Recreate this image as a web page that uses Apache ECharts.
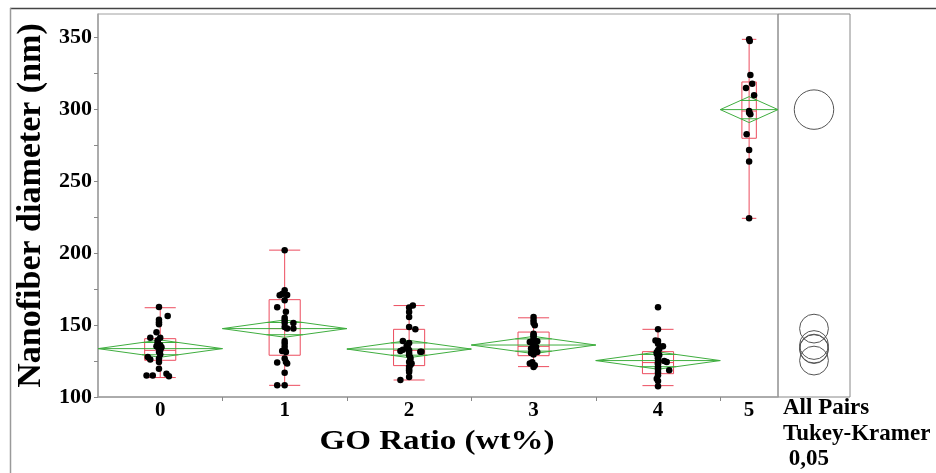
<!DOCTYPE html>
<html>
<head>
<meta charset="utf-8">
<script src="https://cdn.jsdelivr.net/npm/echarts@6/dist/echarts.min.js"></script>
<style>
  html, body { margin: 0; padding: 0; background: #fff; }
  #chart { width: 936px; height: 473px; }
</style>
</head>
<body>
<div id="chart"></div>
<script>
// GO ratio groups (wt%)
const categories = ['0', '1', '2', '3', '4', '5'];

// Individual fiber diameters (nm) per group as [jitter, diameter]
const pts0 = [[-0.01,162.5],[0.06,156.3],[-0.01,153.7],[-0.01,152.0],[-0.01,150.5],[-0.03,145.0],[-0.08,141.2],[0.0,141.2],
  [-0.02,139.4],[-0.02,138.2],[-0.02,137.0],[0.0,135.9],[-0.03,135.3],[-0.02,134.7],[0.01,134.5],[0.0,133.6],[0.0,132.4],
  [-0.01,131.3],[0.0,129.5],[-0.10,127.8],[-0.01,126.7],[-0.08,126.0],[-0.01,124.3],[-0.01,119.7],[-0.11,115.0],[-0.06,115.0],
  [0.05,116.2],[0.07,114.4]];
const pts1 = [[0,201.9],[0,174.1],[-0.04,170.6],[-0.02,171.5],[0.02,170.8],[0,167.2],[-0.06,162.3],[0.01,159.2],[0,155.1],
  [0,153.3],[0,151.4],[0.07,151.4],[0,148.6],[0.02,147.5],[0.07,147.5],[0,138.9],[0,137.1],[0,134.9],[-0.02,131.9],[0,132.4],
  [0.01,131.3],[0,126.7],[0.01,124.3],[0.02,123.2],[-0.06,123.9],[0,116.9],[-0.06,108.1],[0,108.1]];
const pts2 = [[0.03,163.5],[0,162.1],[0,159.0],[0,155.6],[0,148.6],[0.05,147.0],[-0.05,138.9],[0,137.5],[-0.01,134.0],
  [-0.05,132.9],[-0.07,131.9],[0,132.4],[0.09,131.5],[0.1,131.5],[0,129.0],[0.01,127.5],[0.01,126.0],[0,124.3],[0.02,123.2],
  [0,121.0],[0,119.7],[0,117.4],[-0.07,111.8],[0,113.9],[0,130.5],[-0.02,135.5],[0.01,122.2],[0,118.5]];
const pts3 = [[0,155.6],[0,153.3],[0,151.4],[0.01,149.8],[0,144.0],[0,143.0],[0,142.2],[0,140.5],[0,139.4],[0.03,138.7],
  [-0.03,138.2],[0,137.8],[0,136.6],[0.02,134.7],[-0.02,133.6],[0,135.5],[0,134.0],[0,133.0],[0,132.4],[0.03,131.3],
  [-0.02,130.6],[0,131.8],[0,129.5],[-0.01,124.1],[-0.03,123.2],[0.01,122.0],[0,120.8],[0,136.2]];
const pts4 = [[0,162.3],[0,147.0],[-0.02,139.2],[0,138.9],[0,137.0],[0.04,135.2],[0.01,133.3],[0,132.4],[-0.01,131.0],
  [-0.01,130.1],[0,128.3],[0,127.0],[0,126.7],[0.05,125.0],[0.07,124.3],[0,124.3],[0,123.5],[0,122.7],[0,121.0],[0,120.1],
  [0,119.0],[0.09,118.5],[0,117.0],[0,115.1],[-0.01,112.7],[0,111.1],[0,107.4],[0.01,129.2]];
const pts5 = [[0,348.4],[0.005,347.3],[0.01,323.6],[0.025,317.6],[-0.025,314.6],[0.04,309.5],[0,298.6],[0.01,296.3],
  [0,297.5],[-0.02,282.4],[0,271.5],[0,263.5],[0,224.1]];

// Quantile box summaries
const whiskerLow  = [113.5, 108.1, 111.8, 121.1, 107.9, 224.1];
const quartile1   = [125.5, 129.0, 121.8, 128.7, 116.2, 279.7];
const medians     = [132.4, 147.5, 132.4, 135.2, 123.9, 298.6];
const quartile3   = [140.5, 167.6, 147.0, 145.1, 131.5, 318.8];
const whiskerHigh = [162.0, 202.0, 163.5, 155.0, 147.0, 348.4];

// Means, 95% CI half-widths and Tukey-Kramer comparison-circle radii
const means       = [133.6, 147.5, 133.3, 136.1, 125.3, 299.6];
const ciHalf      = [6.0, 6.0, 6.0, 6.0, 6.0, 9.0];
const tukeyRadius = [10.0, 10.0, 10.0, 10.0, 10.0, 13.7];

// Y axis ticks
const yTicks = [100, 150, 200, 250, 300, 350];
const yMinorTicks = [125, 175, 225, 275, 325];

// ---- derived layout: x widths proportional to group size ----
const groups = [pts0, pts1, pts2, pts3, pts4, pts5];
const maxN = Math.max(...groups.map(g => g.length));
const widths = groups.map(g => g.length / maxN);
const bounds = [0];
widths.forEach(w => bounds.push(bounds[bounds.length - 1] + w));
const centers = widths.map((w, i) => bounds[i] + w / 2);
const xMax = bounds[bounds.length - 1];
const innerBounds = bounds.slice(1, -1);

const RED = '#ec4c5e';
const GREEN = '#3fae3f';
const SERIF = '"Liberation Serif", "Times New Roman", serif';

const boxData = categories.map((c, i) => [centers[i], widths[i] * 0.125,
  whiskerLow[i], quartile1[i], medians[i], quartile3[i], whiskerHigh[i]]);
const diamondData = categories.map((c, i) => [centers[i], widths[i] / 2, means[i], ciHalf[i]]);
const pointData = [];
groups.forEach((g, i) => g.forEach(p => pointData.push([centers[i] + p[0], p[1]])));
const circleData = categories.map((c, i) => [means[i], tukeyRadius[i]]);

function renderBox(params, api) {
  const c = api.value(0), hw = api.value(1);
  const xL = api.coord([c - hw, 0])[0], xR = api.coord([c + hw, 0])[0], xC = api.coord([c, 0])[0];
  const y = v => api.coord([c, v])[1];
  const yLo = y(api.value(2)), yQ1 = y(api.value(3)), yMed = y(api.value(4)), yQ3 = y(api.value(5)), yHi = y(api.value(6));
  const st = { stroke: RED, lineWidth: 1, fill: 'none' };
  return {
    type: 'group',
    children: [
      { type: 'line', shape: { x1: xC, y1: yLo, x2: xC, y2: yHi }, style: st },
      { type: 'rect', shape: { x: xL, y: yQ3, width: xR - xL, height: yQ1 - yQ3 }, style: st },
      { type: 'line', shape: { x1: xL, y1: yMed, x2: xR, y2: yMed }, style: st },
      { type: 'line', shape: { x1: xL, y1: yLo, x2: xR, y2: yLo }, style: st },
      { type: 'line', shape: { x1: xL, y1: yHi, x2: xR, y2: yHi }, style: st }
    ]
  };
}

// Means diamond: CI as the diamond, mean line across, overlap marks at mean +/- CI/sqrt(2)
function renderDiamond(params, api) {
  const c = api.value(0), hw = api.value(1), m = api.value(2), ci = api.value(3);
  const L = api.coord([c - hw, m]), R = api.coord([c + hw, m]);
  const T = api.coord([c, m + ci]), B = api.coord([c, m - ci]);
  const ov = ci / Math.SQRT2;
  const f = 1 - ov / ci;
  const st = { stroke: GREEN, lineWidth: 1, fill: 'none' };
  const oU = [api.coord([c - hw * f, m + ov]), api.coord([c + hw * f, m + ov])];
  const oD = [api.coord([c - hw * f, m - ov]), api.coord([c + hw * f, m - ov])];
  return {
    type: 'group',
    children: [
      { type: 'polygon', shape: { points: [L, T, R, B] }, style: st },
      { type: 'line', shape: { x1: L[0], y1: L[1], x2: R[0], y2: R[1] }, style: st },
      { type: 'line', shape: { x1: oU[0][0], y1: oU[0][1], x2: oU[1][0], y2: oU[1][1] }, style: st },
      { type: 'line', shape: { x1: oD[0][0], y1: oD[0][1], x2: oD[1][0], y2: oD[1][1] }, style: st }
    ]
  };
}

function renderCircle(params, api) {
  const p = api.coord([0.5, api.value(0)]);
  const r = api.size([0, api.value(1)])[1];
  return {
    type: 'circle',
    shape: { cx: p[0], cy: p[1], r: r },
    style: { stroke: '#555', lineWidth: 1, fill: 'none' }
  };
}

const chart = echarts.init(document.getElementById('chart'), null, { renderer: 'canvas' });

const axisFrameColor = '#a0a0a0';

chart.setOption({
  animation: false,
  backgroundColor: '#fff',
  grid: [
    { left: 98, top: 14, width: 680, height: 383, show: true, borderColor: axisFrameColor, borderWidth: 1 },
    { left: 778, top: 14, width: 72, height: 383, show: true, borderColor: '#888', borderWidth: 1 }
  ],
  xAxis: [
    {
      type: 'value', gridIndex: 0, min: 0, max: xMax,
      axisLine: { show: true, lineStyle: { color: axisFrameColor, width: 1.5 } },
      axisTick: { show: true, customValues: innerBounds, length: 4, lineStyle: { color: '#888' } },
      axisLabel: {
        show: true, customValues: centers, margin: 3,
        formatter: v => {
          let best = 0;
          centers.forEach((c, i) => { if (Math.abs(c - v) < Math.abs(centers[best] - v)) best = i; });
          return categories[best];
        },
        fontFamily: SERIF, fontWeight: 'bold', fontSize: 21, color: '#000'
      },
      splitLine: { show: false }
    },
    {
      type: 'value', gridIndex: 1, min: 0, max: 1, show: false
    }
  ],
  yAxis: [
    {
      type: 'value', gridIndex: 0, min: 100, max: 366,
      axisLine: { show: true, lineStyle: { color: axisFrameColor, width: 1.5 } },
      axisTick: { show: true, customValues: yTicks.concat(yMinorTicks), length: 4, lineStyle: { color: '#888' } },
      axisLabel: {
        show: true, customValues: yTicks, margin: 6,
        fontFamily: SERIF, fontWeight: 'bold', fontSize: 22, color: '#000'
      },
      splitLine: { show: false },
      name: 'Nanofiber diameter (nm)',
      nameLocation: 'middle',
      nameGap: 46,
      nameTextStyle: { fontFamily: SERIF, fontWeight: 'bold', fontSize: 34, color: '#000' }
    },
    {
      type: 'value', gridIndex: 1, min: 100, max: 366, show: false
    }
  ],
  series: [
    {
      type: 'custom', name: 'quantiles', xAxisIndex: 0, yAxisIndex: 0, z: 2,
      renderItem: renderBox, data: boxData, silent: true
    },
    {
      type: 'custom', name: 'means diamonds', xAxisIndex: 0, yAxisIndex: 0, z: 3,
      renderItem: renderDiamond, data: diamondData, silent: true
    },
    {
      type: 'scatter', name: 'diameters', xAxisIndex: 0, yAxisIndex: 0, z: 5,
      symbol: 'circle', symbolSize: 6.5,
      itemStyle: { color: '#000', opacity: 1 },
      data: pointData, silent: true
    },
    {
      type: 'custom', name: 'comparison circles', xAxisIndex: 1, yAxisIndex: 1, z: 3,
      renderItem: renderCircle, data: circleData, silent: true
    }
  ],
  graphic: [
    { type: 'line', shape: { x1: 10, y1: 8.5, x2: 936, y2: 8.5 }, style: { stroke: '#444', lineWidth: 1.5 }, silent: true },
    { type: 'line', shape: { x1: 10.5, y1: 8, x2: 10.5, y2: 473 }, style: { stroke: '#9a9a9a', lineWidth: 1.5 }, silent: true },
    {
      type: 'text', x: 437, y: 428, scaleX: 1.18, silent: true,
      style: { text: 'GO Ratio (wt%)', font: 'bold 28px ' + SERIF, fill: '#000', textAlign: 'center', textVerticalAlign: 'top' }
    },
    {
      type: 'text', x: 783, y: 397, silent: true,
      style: { text: 'All Pairs', font: 'bold 23px ' + SERIF, fill: '#000', textVerticalAlign: 'top' }
    },
    {
      type: 'text', x: 783, y: 423, silent: true,
      style: { text: 'Tukey-Kramer', font: 'bold 23px ' + SERIF, fill: '#000', textVerticalAlign: 'top' }
    },
    {
      type: 'text', x: 783, y: 448, silent: true,
      style: { text: ' 0,05', font: 'bold 23px ' + SERIF, fill: '#000', textVerticalAlign: 'top' }
    }
  ]
});
</script>
</body>
</html>
